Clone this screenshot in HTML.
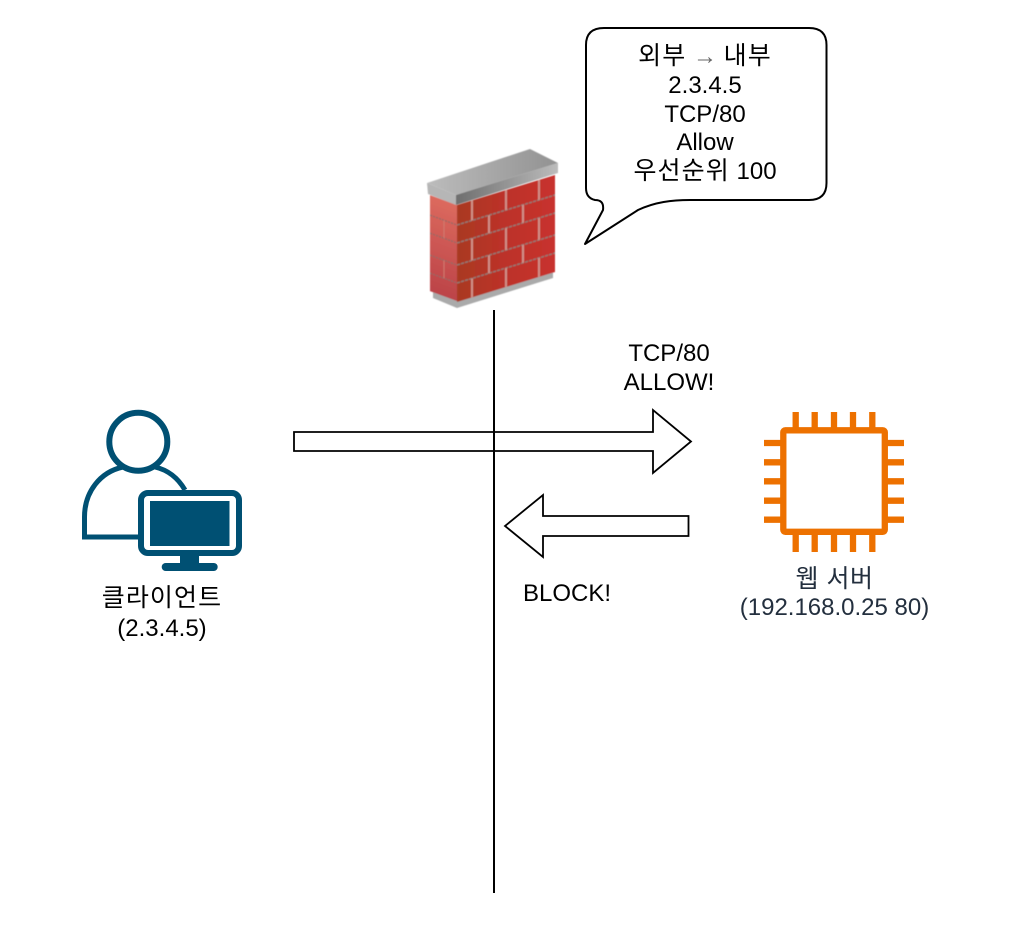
<!DOCTYPE html>
<html>
<head>
<meta charset="utf-8">
<style>
html,body{margin:0;padding:0;background:#fff;}
svg{display:block;}
text{font-family:"Liberation Sans","Noto Sans CJK KR",sans-serif;font-size:24px;text-anchor:middle;fill:#000;}
.k{font-size:25px;letter-spacing:1.1px;}
</style>
</head>
<body>
<svg width="1019" height="945" viewBox="0 0 1019 945" xmlns="http://www.w3.org/2000/svg">
<defs>
<linearGradient id="cap" x1="0" x2="1" y1="0" y2="0"><stop offset="0" stop-color="#bcbcbc"/><stop offset="1" stop-color="#929292"/></linearGradient>
<linearGradient id="capf" x1="0" x2="1" y1="0" y2="0"><stop offset="0" stop-color="#6e6e6e"/><stop offset="1" stop-color="#bcbcbc"/></linearGradient>
<linearGradient id="rf" x1="0" x2="1" y1="0" y2="0"><stop offset="0" stop-color="#a93a22"/><stop offset="0.45" stop-color="#bb3229"/><stop offset="1" stop-color="#c8302e"/></linearGradient>
<linearGradient id="lf" x1="0" x2="0" y1="0" y2="1"><stop offset="0" stop-color="#dc6a5e"/><stop offset="1" stop-color="#bc4348"/></linearGradient>
<filter id="soft" x="-5%" y="-5%" width="110%" height="110%"><feGaussianBlur stdDeviation="0.45"/></filter>
</defs>

<!-- firewall -->
<g filter="url(#soft)">
<polygon points="433,288 457,298 553,268 553,278 457,308 433,298" fill="#aaaaaa"/>
<g transform="translate(457,205) skewY(20)">
<rect x="-27" y="0" width="27" height="96" fill="url(#lf)"/>
<g stroke="#8f6b66" stroke-width="1.300" fill="none" stroke-dasharray="2 1">
<path d="M-27 20H0M-27 38H0M-27 60H0M-27 78H0"/>
</g>
<path d="M-13 20V38M-13 60V78" stroke="#d07a70" stroke-width="1" fill="none"/>
</g>
<g transform="translate(457,205) skewY(-17)">
<rect x="0" y="0" width="98" height="97" fill="url(#rf)"/>
<g stroke="#8e7a74" stroke-width="1.500" fill="none" stroke-dasharray="3 1">
<path d="M0 20H98M0 38H98M0 60H98M0 78H98"/>
</g>
<g stroke="#d09088" stroke-width="2" fill="none">
<path d="M15 0V20M49 0V20M82 0V20M32 20V38M66 20V38M15 38V60M49 38V60M82 38V60M32 60V78M66 60V78M15 78V97M49 78V97M82 78V97"/>
</g>
</g>
<polygon points="427,183 530,149 558,163 456,195" fill="url(#cap)"/>
<polygon points="456,195 558,163 558,173 456,205" fill="url(#capf)"/>
<polygon points="427,183 456,195 456,205 428,194" fill="#b6b6b6"/>
</g>

<!-- vertical line -->
<line x1="494" y1="310" x2="494" y2="893" stroke="#000" stroke-width="2"/>

<!-- arrows -->
<polygon points="294,432 653,432 653,410 691,441.500 653,473 653,451 294,451" fill="none" stroke="#000" stroke-width="1.800"/>
<polygon points="688.500,516 543,516 543,495 505,526 543,557 543,536 688.500,536" fill="none" stroke="#000" stroke-width="1.800"/>

<!-- callout -->
<path d="M604 28H809Q826.500 28 826.500 45V183Q826.500 200 809 200H690C672 200 655 202 638 210L585 244L603 210C604 202 600 200 595 200Q586 198 586 188V45Q586 28 604 28Z" fill="#fff" stroke="#000" stroke-width="2" stroke-linejoin="round"/>
<text x="705" y="64"><tspan class="k">외부</tspan> <tspan fill="#666">→</tspan> <tspan class="k">내부</tspan></text>
<text x="705" y="93">2.3.4.5</text>
<text x="705" y="122">TCP/80</text>
<text x="705" y="150">Allow</text>
<text x="705" y="179"><tspan class="k">우선순위</tspan> 100</text>

<text x="669" y="361">TCP/80</text>
<text x="669" y="390">ALLOW!</text>
<text x="567" y="601">BLOCK!</text>

<!-- client icon -->
<g fill="none" stroke="#005073">
<circle cx="138.300" cy="441.700" r="29" stroke-width="6"/>
<path d="M123 467C100 472 84.500 492 84.500 517V537H140M155 467C168 470 178 478 185 490" stroke-width="5"/>
<rect x="141" y="493" width="98" height="60" rx="7" stroke-width="6"/>
</g>
<rect x="150" y="501" width="79.500" height="45" fill="#005073"/>
<rect x="180" y="555" width="19" height="9" fill="#005073"/>
<rect x="161.700" y="563" width="56" height="8" rx="4" fill="#005073"/>
<text x="162" y="606"><tspan class="k">클라이언트</tspan></text>
<text x="162" y="636">(2.3.4.5)</text>

<!-- chip icon -->
<g fill="none" stroke="#ED7100" stroke-width="6.300">
<rect x="783.300" y="430.300" width="101.500" height="101.500" rx="2"/>
<path d="M795.700 412V428M814.700 412V428M834 412V428M853 412V428M872.300 412V428"/>
<path d="M795.700 534V552M814.700 534V552M834 534V552M853 534V552M872.300 534V552"/>
<path d="M764 443H781M764 462.300H781M764 481.300H781M764 500.700H781M764 519.700H781"/>
<path d="M887 443H904M887 462.300H904M887 481.300H904M887 500.700H904M887 519.700H904"/>
</g>
<text x="834.500" y="587"><tspan class="k" style="fill:#232F3E;letter-spacing:.5px">웹 서버</tspan></text>
<text x="834.500" y="615" style="fill:#232F3E">(192.168.0.25 80)</text>
</svg>
</body>
</html>
